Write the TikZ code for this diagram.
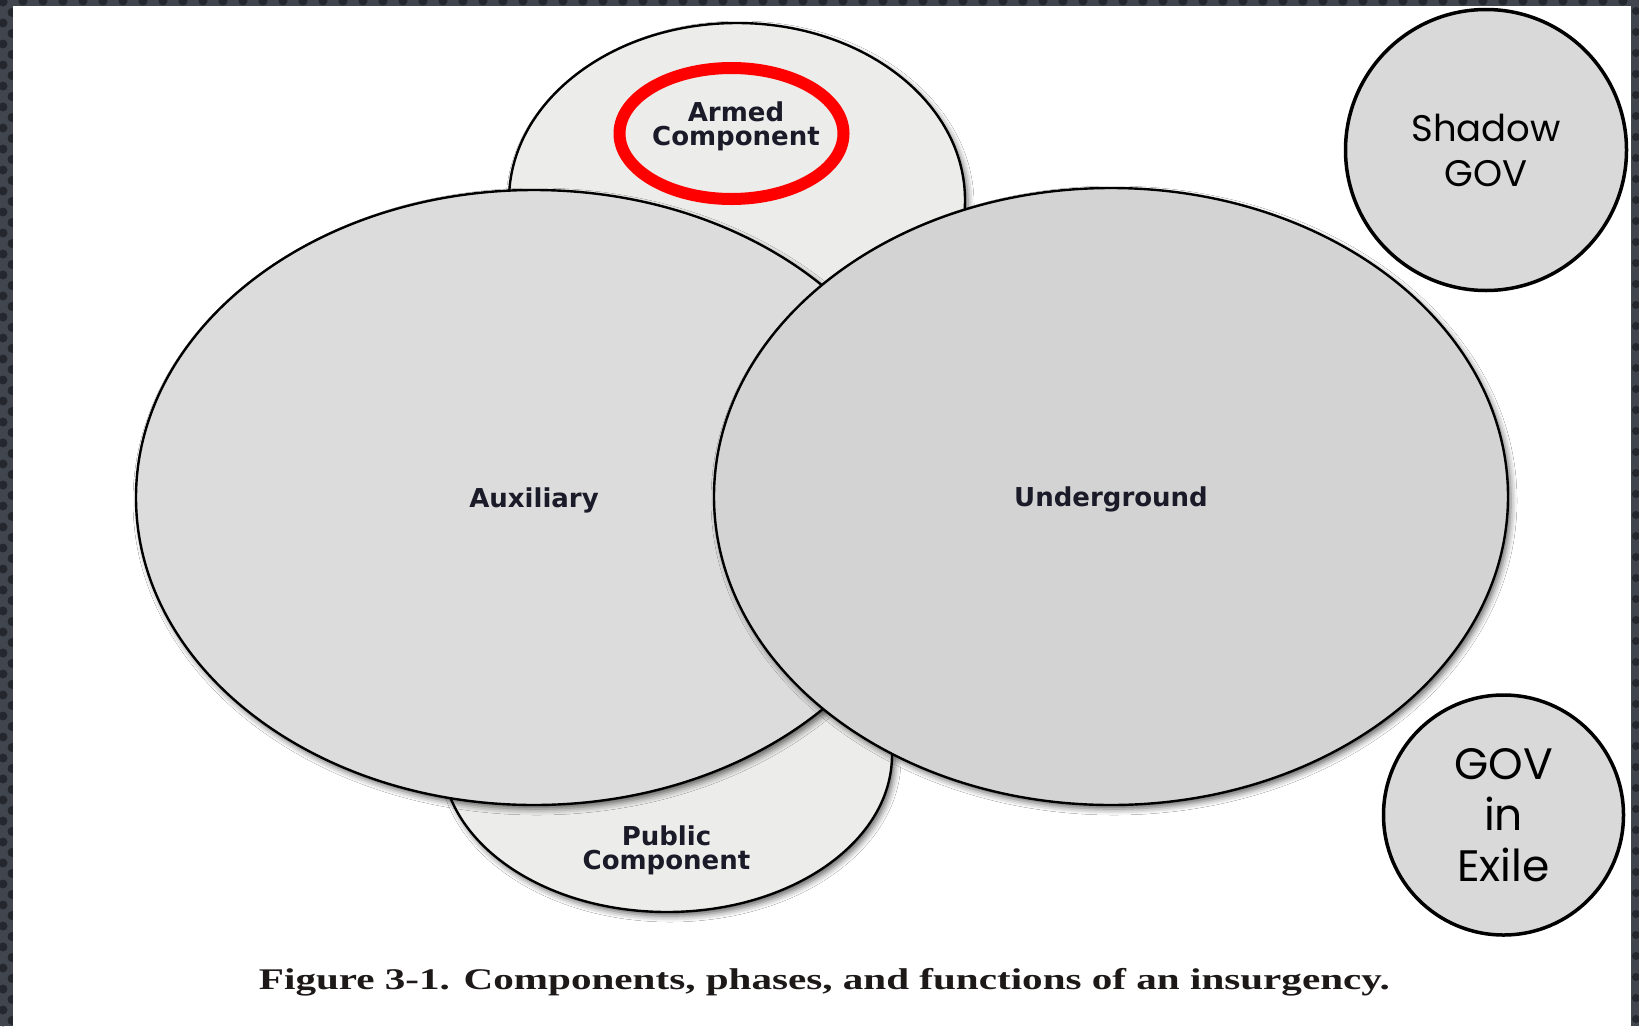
\documentclass[tikz,border=0pt]{standalone}
\usepackage{fontspec}
\usepackage{graphicx}
\usetikzlibrary{shapes.geometric,shadows.blur}
\newfontfamily\dvsans{DejaVu Sans}
\newfontfamily\popfont{Poppins}
\newfontfamily\capfont{Liberation Serif}
\definecolor{frameg}{RGB}{65,69,77}
\definecolor{framedot}{RGB}{36,39,45}
\definecolor{auxfill}{RGB}{220,220,220}
\definecolor{undfill}{RGB}{211,211,211}
\definecolor{compfill}{RGB}{236,236,234}
\definecolor{circfill}{RGB}{217,217,217}
\definecolor{txtdark}{RGB}{26,26,40}
\begin{document}
\begin{tikzpicture}[x=1pt,y=-1pt,
  bigell/.style={ellipse, draw=black, line width=2.4pt, inner sep=0pt,
    blur shadow={shadow xshift=3pt, shadow yshift=-4pt, shadow blur radius=6pt, shadow opacity=60}},
  lbl/.style={font=\dvsans\bfseries\fontsize{26}{24}\selectfont, text=txtdark, align=center},
  govcirc/.style={circle, draw=black, line width=3.5pt, fill=circfill, inner sep=0pt, align=center, text=black},
]
\useasboundingbox (0,0) rectangle (1639,1026);
% dotted frame
\fill[frameg] (0,0) rectangle (1639,1026);
\foreach \i in {0,...,82} \fill[framedot] (3+20*\i,1) circle (4.5);
\foreach \j in {0,...,49} {
  \fill[framedot] (3,2+21*\j) circle (4.5);
  \fill[framedot] (12,12.5+21*\j) circle (4.5);
  \fill[framedot] (1636,11+21*\j) circle (4);
}
\fill[white] (13,6) rectangle (1631,1026);

% components
\node[bigell, fill=compfill, minimum width=456, minimum height=354] (armed) at (737,200) {};
\node[bigell, fill=compfill, minimum width=450, minimum height=314] (public) at (667,755) {};
\node[bigell, fill=auxfill, minimum width=796, minimum height=615, lbl, text height=19pt, text depth=0pt] (aux) at (534,497.5) {Auxiliary};
\node[bigell, fill=undfill, minimum width=794, minimum height=617, lbl, text height=19pt, text depth=0pt] (under) at (1111,496.5) {Underground};

\node[ellipse, draw=red, line width=12pt, minimum width=224, minimum height=131, inner sep=0pt] (hl) at (731.5,133.5) {};
\node[lbl] (armedtxt) at (736,126) {Armed\\Component};
\node[lbl] (publictxt) at (666.5,850) {Public\\Component};

% government circles
\node[govcirc, minimum size=281, font=\popfont\fontsize{37}{45}\selectfont] (shadow) at (1486,150) {Shadow\\GOV};
\node[govcirc, minimum size=240, font=\popfont\fontsize{44}{51}\selectfont] (exile) at (1503.5,815) {GOV\\in\\Exile};

% caption
\node[font=\capfont\bfseries\fontsize{30}{30}\selectfont, text={rgb,255:red,30;green,25;blue,25}, anchor=base, inner sep=0pt] (caption) at (824.5,989)
  {\resizebox{1131pt}{\height}{Figure 3-1. Components, phases, and functions of an insurgency.}};
\end{tikzpicture}
\end{document}
